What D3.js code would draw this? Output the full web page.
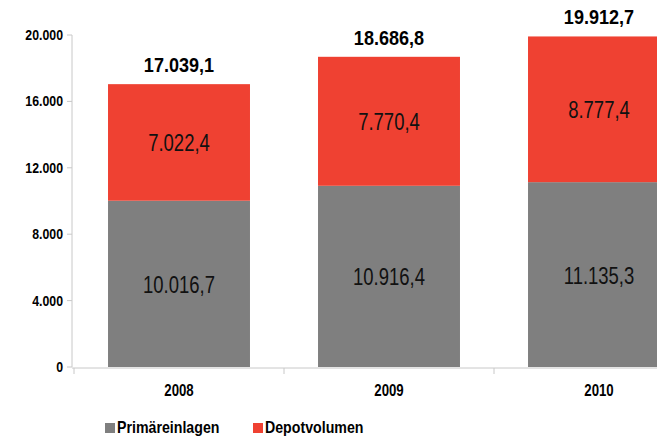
<!DOCTYPE html>
<html lang="de">
<head>
<meta charset="UTF-8">
<title>Primäreinlagen und Depotvolumen</title>
<style>
  body { margin: 0; background: #fff; }
  svg { display: block; font-family: "Liberation Sans", Arial, sans-serif; }
</style>
</head>
<body>
<svg id="chart" width="657" height="439"></svg>
<script src="https://d3js.org/d3.v7.min.js"></script>
<script>
// data
const years = ["2008", "2009", "2010"];
const primaereinlagen = [10016.7, 10916.4, 11135.3];
const depotvolumen = [7022.4, 7770.4, 8777.4];
const totals = [17039.1, 18686.8, 19912.7];
const yTicks = [0, 4000, 8000, 12000, 16000, 20000];
const seriesNames = ["Primäreinlagen", "Depotvolumen"];
const colors = ["#7f7f7f", "#ef4132"];

const svg = d3.select("#chart");

const x = d3.scaleBand().domain(years).range([74, 704])
  .paddingInner(0.324).paddingOuter(0.162);
const y = d3.scaleLinear().domain([0, 20000]).range([367, 35]);

// german number format
const de = d3.formatLocale({ decimal: ",", thousands: ".", grouping: [3], currency: ["", "€"] });
const fmtTick = de.format(",.0f");
const fmtVal = de.format(",.1f");

// stretched text helper (the original font is condensed)
function label(g, tx, ty, txt, size, sx, weight, fill, anchor) {
  g.append("text")
    .attr("transform", `translate(${tx},${ty}) scale(${sx},1)`)
    .attr("text-anchor", anchor || "middle")
    .style("font-size", size + "px")
    .style("font-weight", weight)
    .attr("fill", fill)
    .text(txt);
}

// y axis
const yAxis = svg.append("g").attr("transform", "translate(72,0)");
yAxis.append("line").attr("x1", 0).attr("x2", 0).attr("y1", y(20000)).attr("y2", y(0))
  .attr("stroke", "#c8c8c8");
yTicks.forEach(t => {
  yAxis.append("line").attr("x1", -5).attr("x2", 0).attr("y1", y(t)).attr("y2", y(t))
    .attr("stroke", "#c8c8c8");
  label(yAxis, -9, y(t) + 5, fmtTick(t), 14, 0.88, "bold", "#000", "end");
});

// stacked data
const rows = years.map((yr, i) => ({ year: yr, Primäreinlagen: primaereinlagen[i], Depotvolumen: depotvolumen[i] }));
const stack = d3.stack().keys(seriesNames)(rows);

const bars = svg.append("g");
stack.forEach((layer, li) => {
  layer.forEach(d => {
    bars.append("rect")
      .attr("x", x(d.data.year))
      .attr("y", y(d[1]))
      .attr("width", x.bandwidth())
      .attr("height", y(d[0]) - y(d[1]))
      .attr("fill", colors[li]);
    const mid = (y(d[0]) + y(d[1])) / 2;
    label(bars, x(d.data.year) + x.bandwidth() / 2, mid + 9,
      fmtVal(d[1] - d[0]), 24, 0.77, "normal", "#111");
  });
});

// totals
years.forEach((yr, i) => {
  label(svg, x(yr) + x.bandwidth() / 2, y(totals[i]) - 12, fmtVal(totals[i]), 21, 0.86, "bold", "#000");
});

// x axis
const xAxis = svg.append("g");
xAxis.append("line").attr("x1", 72).attr("x2", 657).attr("y1", 368).attr("y2", 368)
  .attr("stroke", "#c8c8c8");
years.forEach(yr => {
  const left = x(yr) - x.step() * x.paddingInner() / 2;
  xAxis.append("line").attr("x1", left).attr("x2", left).attr("y1", 368).attr("y2", 374)
    .attr("stroke", "#c8c8c8");
  label(xAxis, x(yr) + x.bandwidth() / 2, 396, yr, 16.5, 0.8, "bold", "#000");
});

// legend
const legend = svg.append("g");
const legendX = [105, 253];
seriesNames.forEach((name, i) => {
  legend.append("rect").attr("x", legendX[i]).attr("y", 423).attr("width", 10).attr("height", 10)
    .attr("fill", colors[i]);
  label(legend, legendX[i] + 12, 433, name, 16.5, 0.86, "bold", "#000", "start");
});
</script>
</body>
</html>
